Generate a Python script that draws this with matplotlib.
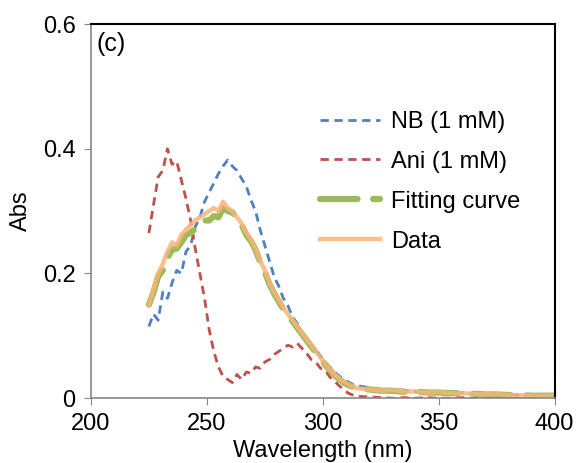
import matplotlib.pyplot as plt

plt.rcParams['font.family'] = ['Liberation Sans', 'DejaVu Sans']

wavelength = list(range(225, 316, 2)) + list(range(320, 401, 5))

nb = [0.115, 0.135, 0.125, 0.170, 0.160, 0.185, 0.205, 0.200, 0.235, 0.245,
      0.275, 0.290, 0.315, 0.330, 0.345, 0.360, 0.372, 0.382, 0.372, 0.365,
      0.352, 0.340, 0.318, 0.300, 0.270, 0.245, 0.220, 0.195, 0.180, 0.160,
      0.148, 0.130, 0.120, 0.105, 0.095, 0.085, 0.078, 0.068, 0.058, 0.050,
      0.042, 0.036, 0.030, 0.026, 0.022, 0.020,
      0.017, 0.014, 0.012, 0.013, 0.010, 0.011, 0.009, 0.008, 0.009, 0.007,
      0.007, 0.006, 0.006, 0.005, 0.006, 0.004, 0.005]

ani = [0.265, 0.310, 0.355, 0.365, 0.400, 0.375, 0.380, 0.350, 0.320, 0.285,
       0.240, 0.200, 0.160, 0.110, 0.075, 0.050, 0.035, 0.030, 0.025, 0.038,
       0.030, 0.042, 0.040, 0.050, 0.048, 0.058, 0.062, 0.070, 0.075, 0.080,
       0.085, 0.082, 0.088, 0.080, 0.072, 0.062, 0.058, 0.048, 0.045, 0.034,
       0.028, 0.020, 0.014, 0.008, 0.005, 0.003,
       0.002, 0.001, 0.000, 0.001, 0.000, 0.001, 0.000, 0.000, 0.001, 0.000,
       0.000, 0.001, 0.000, 0.000, 0.001, 0.000, 0.000]

fitting = [0.150, 0.170, 0.195, 0.205, 0.225, 0.238, 0.240, 0.250, 0.262, 0.265,
           0.272, 0.280, 0.285, 0.285, 0.292, 0.290, 0.305, 0.300, 0.298, 0.288,
           0.278, 0.262, 0.252, 0.238, 0.218, 0.202, 0.183, 0.168, 0.155, 0.143,
           0.133, 0.123, 0.113, 0.103, 0.093, 0.083, 0.074, 0.064, 0.054, 0.045,
           0.037, 0.031, 0.025, 0.021, 0.018, 0.016,
           0.014, 0.012, 0.012, 0.010, 0.011, 0.009, 0.009, 0.008, 0.008, 0.007,
           0.006, 0.006, 0.005, 0.005, 0.004, 0.004, 0.004]

data = [0.150, 0.175, 0.200, 0.215, 0.235, 0.250, 0.245, 0.262, 0.270, 0.278,
        0.285, 0.290, 0.295, 0.300, 0.305, 0.300, 0.315, 0.305, 0.300, 0.290,
        0.280, 0.265, 0.255, 0.240, 0.220, 0.205, 0.185, 0.170, 0.158, 0.145,
        0.135, 0.125, 0.115, 0.105, 0.095, 0.085, 0.075, 0.065, 0.055, 0.046,
        0.038, 0.032, 0.026, 0.022, 0.018, 0.016,
        0.014, 0.012, 0.013, 0.010, 0.011, 0.009, 0.010, 0.008, 0.008, 0.007,
        0.006, 0.007, 0.005, 0.005, 0.004, 0.004, 0.004]

fig = plt.figure(figsize=(5.79, 4.63), dpi=100)
ax = fig.add_axes([0.157, 0.140, 0.801, 0.808])

ax.plot(wavelength, nb, color='#4F81BD', lw=2, dashes=(3, 2), label='NB (1 mM)')
ax.plot(wavelength, ani, color='#C0504D', lw=2, dashes=(3, 2), label='Ani (1 mM)')
ax.plot(wavelength, fitting, color='#9BBB59', lw=4.5, dashes=(6, 2.5),
        dash_capstyle='round', label='Fitting curve')
ax.plot(wavelength, data, color='#F8B47A', lw=3.2, alpha=0.85, label='Data')

ax.set_xlim(200, 400)
ax.set_ylim(0, 0.6)
ax.set_xticks([200, 250, 300, 350, 400])
ax.set_yticks([0, 0.2, 0.4, 0.6])
ax.set_yticklabels(['0', '0.2', '0.4', '0.6'])
ax.tick_params(labelsize=17, length=5, color='#888888', direction='out', pad=6)

for side in ['left', 'bottom']:
    ax.spines[side].set_color('#888888')
    ax.spines[side].set_linewidth(1.2)
for side in ['top', 'right']:
    ax.spines[side].set_color('black')
    ax.spines[side].set_linewidth(1.5)

ax.set_xlabel('Wavelength (nm)', fontsize=17, labelpad=3)
ax.set_ylabel('Abs', fontsize=17, labelpad=8)
ax.text(0.012, 0.978, '(c)', transform=ax.transAxes, fontsize=18, va='top', ha='left')

ax.legend(loc='upper left', bbox_to_anchor=(0.448, 0.825), frameon=False, fontsize=17,
          handlelength=2.55, labelspacing=0.76, handletextpad=0.45)

fig.savefig('out.png', dpi=100)
